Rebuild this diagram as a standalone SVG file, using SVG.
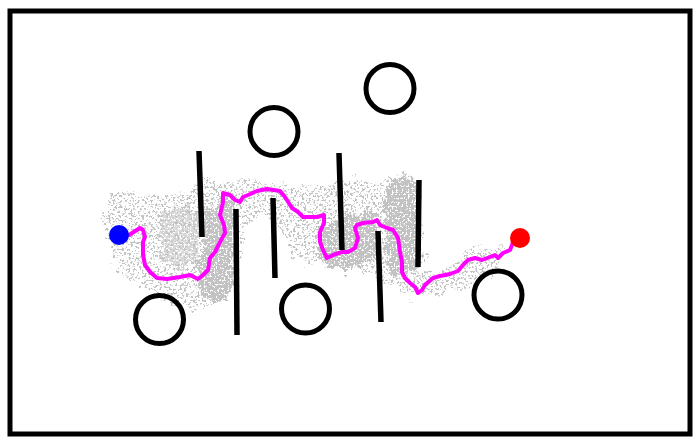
<svg xmlns="http://www.w3.org/2000/svg" width="699" height="445" viewBox="0 0 699 445">
<style>
.wall{stroke:#000;stroke-width:5.5;stroke-linecap:butt;fill:none}
.obs{stroke:#000;stroke-width:5;fill:none}
.path{stroke:#ff00ff;stroke-width:4;fill:none;stroke-linejoin:round;stroke-linecap:round}
</style>
<defs>
<filter id="sparse" filterUnits="userSpaceOnUse" x="0" y="0" width="699" height="445" color-interpolation-filters="sRGB">
<feTurbulence type="fractalNoise" baseFrequency="0.08" numOctaves="2" seed="3" result="lo"/>
<feDisplacementMap in="SourceGraphic" in2="lo" scale="22" xChannelSelector="R" yChannelSelector="G" result="shape"/>
<feTurbulence type="fractalNoise" baseFrequency="0.45" numOctaves="2" seed="7" result="n"/>
<feColorMatrix in="n" type="matrix" values="0 0 0 0 0.76 0 0 0 0 0.76 0 0 0 0 0.76 14 0 0 0 -7.6" result="g"/>
<feComposite in="g" in2="shape" operator="in"/>
</filter>
<filter id="dense" filterUnits="userSpaceOnUse" x="0" y="0" width="699" height="445" color-interpolation-filters="sRGB">
<feTurbulence type="fractalNoise" baseFrequency="0.1" numOctaves="2" seed="5" result="lo"/>
<feDisplacementMap in="SourceGraphic" in2="lo" scale="16" xChannelSelector="R" yChannelSelector="G" result="shape"/>
<feTurbulence type="fractalNoise" baseFrequency="0.5" numOctaves="2" seed="11" result="n"/>
<feColorMatrix in="n" type="matrix" values="0 0 0 0 0.76 0 0 0 0 0.76 0 0 0 0 0.76 14 0 0 0 -5.8" result="g"/>
<feComposite in="g" in2="shape" operator="in"/>
</filter>
</defs>
<rect width="699" height="445" fill="#fff"/>
<rect id="border" x="10" y="11" width="680" height="423" fill="none" stroke="#000" stroke-width="5"/>
<g id="tree">
<path filter="url(#sparse)" fill="#000" d="M103,220 L106,200 L118,190 L135,192 L150,198 L165,195 L180,188 L195,190 L200,180 L215,178 L235,180 L250,182 L265,178 L285,185 L300,184 L320,185 L340,182 L350,178 L370,180 L385,182 L398,175 L412,178 L418,190 L420,230 L425,270 L445,272 L460,258 L480,248 L500,245 L510,250 L500,262 L485,275 L470,285 L455,290 L440,295 L420,300 L410,298 L400,290 L390,282 L370,275 L345,272 L330,268 L310,265 L295,255 L283,240 L276,222 L262,218 L245,225 L238,250 L235,275 L225,295 L210,305 L190,308 L170,305 L155,298 L140,285 L125,278 L115,268 L110,255 L112,245 Z"/>
<path filter="url(#dense)" fill="#000" d="M205,210 L222,198 L234,202 L234,285 L226,302 L212,303 L200,292 L196,270 L203,245 Z"/>
<path filter="url(#dense)" fill="#000" d="M318,228 L335,222 L352,214 L375,212 L378,235 L376,262 L355,268 L330,268 L318,258 Z"/>
<path filter="url(#dense)" fill="#000" d="M386,184 L398,178 L416,182 L416,268 L405,278 L390,272 L384,240 L382,205 Z"/>
<path filter="url(#dense)" fill="#000" d="M160,215 L185,205 L200,215 L198,260 L180,270 L160,262 Z" opacity="0.6"/>
</g>
<g id="obstacles">
<circle class="obs" cx="159.5" cy="319.5" r="24"/>
<circle class="obs" cx="305.5" cy="309" r="24"/>
<circle class="obs" cx="274" cy="131.5" r="24"/>
<circle class="obs" cx="390" cy="88.5" r="24"/>
<circle class="obs" cx="498" cy="295" r="24"/>
</g>
<g id="walls">
<line class="wall" x1="199" y1="151" x2="202" y2="237"/>
<line class="wall" x1="236" y1="209" x2="237" y2="335"/>
<line class="wall" x1="273" y1="198" x2="275" y2="278"/>
<line class="wall" x1="339" y1="153" x2="342" y2="250"/>
<line class="wall" x1="378" y1="231" x2="381" y2="322"/>
<line class="wall" x1="419" y1="180" x2="418" y2="267"/>
</g>
<g id="connectors">
<polyline class="path" points="129,235 140,228 143,230 145,237 143,242 143,255 145,265 150,272 157,278 167,279 180,277 190,275 198,279 203,275 208,270 210,258 215,252 220,242 225,233 224,225 220,215 223,202 223,193 230,195 235,200 240,202 243,197 248,195 257,191 267,189 280,191 285,197 292,208 298,212 303,217 308,217 317,217 324,215 324,223 320,232 320,242 323,250 327,258 333,255 342,252 348,252 355,248 358,238 355,228 357,225 363,223 373,222 377,220 380,225 387,228 393,230 398,238 400,252 402,262 402,272 405,278 410,283 415,287 418,293 422,290 425,285 433,278 440,276 450,274 458,271 463,265 468,260 475,258 482,260 490,257 495,255 498,258 503,253 510,250 512,245 513,242"/>
</g>
<g id="start"><circle cx="119" cy="235" r="10" fill="#0000ff"/></g>
<g id="goal"><circle cx="520" cy="238" r="10" fill="#ff0000"/></g>
</svg>
